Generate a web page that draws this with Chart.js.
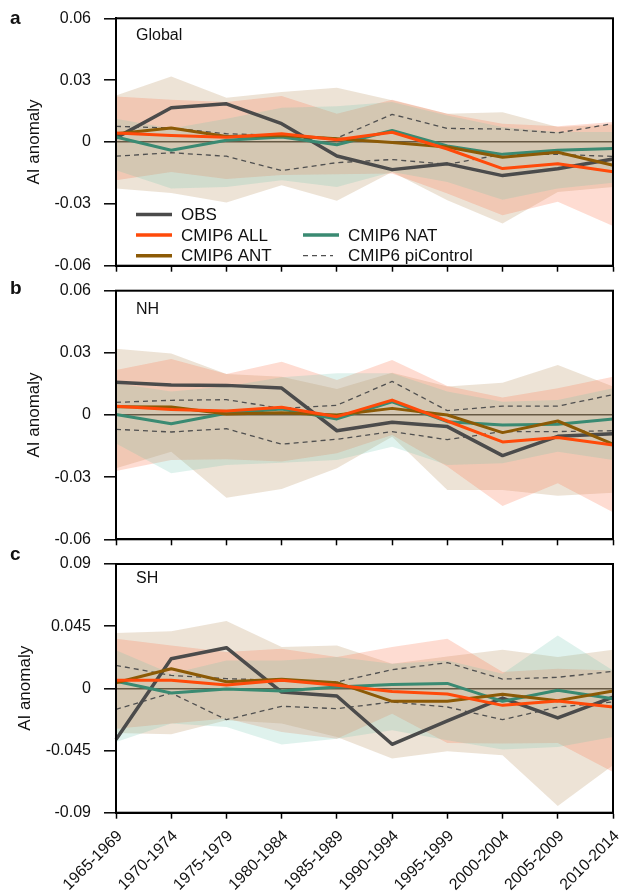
<!DOCTYPE html>
<html>
<head>
<meta charset="utf-8">
<script src="https://cdn.jsdelivr.net/npm/chart.js@4.4.1/dist/chart.umd.min.js"></script>
<style>
  body { margin: 0; background: #fff; overflow: hidden; }
  #wrap { position: relative; width: 621px; height: 893px; }
  canvas { position: absolute; left: 0; }
</style>
</head>
<body>
<div id="wrap">
  <canvas id="cA" width="621" height="280" style="top:0px"></canvas>
  <canvas id="cB" width="621" height="270" style="top:280px"></canvas>
  <canvas id="cC" width="621" height="343" style="top:550px"></canvas>
</div>
<script>
// periods on the x axis
const periods = ['1965-1969', '1970-1974', '1975-1979', '1980-1984', '1985-1989',
  '1990-1994', '1995-1999', '2000-2004', '2005-2009', '2010-2014']

// y ticks
const yTicksAB = [-0.06, -0.03, 0, 0.03, 0.06]
const yLabelsAB = ['-0.06', '-0.03', '0', '0.03', '0.06']
const yTicksC = [-0.09, -0.045, 0, 0.045, 0.09]
const yLabelsC = ['-0.09', '-0.045', '0', '0.045', '0.09']

// a - Global
const obsG = [0.002, 0.0166, 0.0185, 0.0089, -0.0068, -0.0134, -0.0106, -0.0163, -0.013, -0.0082]
const allG = [0.0044, 0.0032, 0.0023, 0.004, 0.0011, 0.0047, -0.0034, -0.0129, -0.0105, -0.0144]
const antG = [0.004, 0.0068, 0.0027, 0.0032, 0.0016, -0.0002, -0.0024, -0.0074, -0.005, -0.0113]
const natG = [0.0024, -0.004, 0.0008, 0.0024, -0.0013, 0.0056, -0.0019, -0.006, -0.004, -0.0032]
const piUpG = [0.0076, 0.0068, 0.004, 0.0032, 0.0019, 0.0134, 0.0066, 0.0063, 0.0044, 0.0089]
const piLoG = [-0.0069, -0.0052, -0.0069, -0.0139, -0.01, -0.0085, -0.0108, -0.006, -0.006, -0.007]
const antUpG = [0.0226, 0.0318, 0.0215, 0.0242, 0.0263, 0.0202, 0.0137, 0.0144, 0.0073, 0.0085]
const antLoG = [-0.0226, -0.0247, -0.0294, -0.021, -0.0285, -0.0145, -0.0282, -0.0395, -0.0242, -0.0218]
const allUpG = [0.0221, 0.0205, 0.0194, 0.0223, 0.0137, 0.0205, 0.0137, 0.0089, 0.0076, 0.0097]
const allLoG = [-0.0185, -0.0145, -0.018, -0.016, -0.0156, -0.0153, -0.025, -0.0355, -0.029, -0.0408]
const natUpG = [0.0113, 0.0065, 0.0113, 0.0166, 0.0173, 0.0194, 0.0129, 0.0073, 0.0048, 0.0048]
const natLoG = [-0.0137, -0.0226, -0.0218, -0.0185, -0.0218, -0.0145, -0.0194, -0.028, -0.0226, -0.0198]

// b - NH
const obsN = [0.0158, 0.0145, 0.0143, 0.013, -0.0076, -0.0035, -0.0056, -0.0196, -0.0103, -0.009]
const allN = [0.0042, 0.0026, 0.0019, 0.0037, -0.0008, 0.0072, -0.0029, -0.013, -0.0109, -0.0145]
const antN = [0.004, 0.0039, 0.0005, 0.0011, 0, 0.0032, 0, -0.0085, -0.0029, -0.0141]
const natN = [0.0002, -0.0042, 0.0008, 0.0029, -0.0019, 0.0064, -0.0032, -0.0048, -0.0045, -0.0019]
const piUpN = [0.0061, 0.0071, 0.0074, 0.0032, 0.0047, 0.0162, 0.0021, 0.0043, 0.0043, 0.0098]
const piLoN = [-0.0069, -0.0082, -0.0066, -0.0141, -0.0117, -0.008, -0.0119, -0.008, -0.008, -0.0076]
const antUpN = [0.032, 0.0297, 0.0198, 0.0185, 0.0125, 0.0204, 0.0137, 0.0156, 0.0241, 0.0137]
const antLoN = [-0.0257, -0.0177, -0.0399, -0.0357, -0.0257, -0.0105, -0.0362, -0.0362, -0.039, -0.0375]
const allUpN = [0.0217, 0.027, 0.0198, 0.0257, 0.0169, 0.0265, 0.014, 0.0085, 0.0129, 0.0185]
const allLoN = [-0.027, -0.0217, -0.0214, -0.0225, -0.0185, -0.0096, -0.0249, -0.0439, -0.033, -0.0469]
const natUpN = [0.0153, 0.0113, 0.0137, 0.0182, 0.0201, 0.0201, 0.0113, 0.0064, 0.0072, 0.0129]
const natLoN = [-0.0137, -0.0281, -0.0241, -0.023, -0.0217, -0.0153, -0.0241, -0.0233, -0.0177, -0.0217]

// c - SH
const obsS = [-0.0371, 0.0214, 0.0294, -0.0027, -0.0055, -0.0405, -0.0236, -0.007, -0.0214, -0.0063]
const allS = [0.0058, 0.0058, 0.0024, 0.0058, 0.0022, -0.0022, -0.0041, -0.0123, -0.0092, -0.0135]
const antS = [0.0041, 0.0142, 0.0048, 0.0065, 0.0041, -0.0094, -0.0094, -0.0043, -0.0089, -0.0019]
const natS = [0.0051, -0.0034, -0.0005, -0.0019, 0.001, 0.0027, 0.0036, -0.0094, -0.0014, -0.0075]
const piUpS = [0.0166, 0.0094, 0.007, 0.0058, 0.0046, 0.0135, 0.0186, 0.0067, 0.008, 0.0123]
const piLoS = [-0.0152, -0.0034, -0.0227, -0.013, -0.0147, -0.0099, -0.0135, -0.0227, -0.0135, -0.0099]
const antUpS = [0.04, 0.0414, 0.0487, 0.0299, 0.0311, 0.0178, 0.0231, 0.0279, 0.0227, 0.0279]
const antLoS = [-0.0323, -0.0332, -0.0231, -0.0255, -0.0352, -0.0508, -0.0455, -0.0484, -0.0852, -0.0557]
const allUpS = [0.0359, 0.0311, 0.0263, 0.0287, 0.0227, 0.0299, 0.0359, 0.0118, 0.0142, 0.013]
const allLoS = [-0.0292, -0.0255, -0.0219, -0.0316, -0.0364, -0.0183, -0.0395, -0.04, -0.0395, -0.0605]
const natUpS = [0.0275, 0.0106, 0.0202, 0.0202, 0.0227, 0.0178, 0.0202, 0.0106, 0.0383, 0.013]
const natLoS = [-0.0388, -0.0255, -0.028, -0.0407, -0.0364, -0.0304, -0.0376, -0.0443, -0.0424, -0.0352]

// legend text
const legendNames = ['OBS', 'CMIP6 ALL', 'CMIP6 NAT', 'CMIP6 ANT', 'CMIP6 piControl']

// colours
const cObs = '#4b4b4b'
const cAll = '#ff4a0a'
const cAnt = '#8c5a06'
const cNat = '#3a8a72'
const cPi = '#505050'
const fAll = 'rgba(250,120,80,0.26)'
const fAnt = 'rgba(185,145,95,0.26)'
const fNat = 'rgba(110,195,175,0.22)'

const FONT = '"Liberation Sans", Arial, Helvetica, sans-serif'
Chart.defaults.font.family = FONT
Chart.defaults.color = '#111'

// frame, panel name and letter
const panelDeco = {
  id: 'panelDeco',
  afterDatasetsDraw(chart, args, o) {
    const ctx = chart.ctx
    const a = chart.chartArea
    ctx.save()
    ctx.strokeStyle = '#000'
    ctx.lineWidth = 2
    ctx.strokeRect(a.left, a.top, a.right - a.left, a.bottom - a.top)
    ctx.fillStyle = '#111'
    ctx.textBaseline = 'middle'
    ctx.font = '16px ' + FONT
    ctx.fillText(o.name, a.left + 20, a.top + o.nameDy)
    ctx.textBaseline = 'alphabetic'
    ctx.font = 'bold 19px ' + FONT
    ctx.fillText(o.letter, 10, a.top + o.letterDy)
    ctx.restore()
  }
}

// legend for panel a, two columns, placed from the plot corner
const legendDeco = {
  id: 'legendDeco',
  afterDatasetsDraw(chart, args, o) {
    if (!o.show) return
    const ctx = chart.ctx
    const a = chart.chartArea
    const rows = [
      [20, 196.2, cObs, false, legendNames[0]],
      [20, 216.7, cAll, false, legendNames[1]],
      [187, 216.7, cNat, false, legendNames[2]],
      [20, 237.4, cAnt, false, legendNames[3]],
      [187, 237.4, cPi, true, legendNames[4]]
    ]
    ctx.save()
    ctx.font = '17px ' + FONT
    ctx.textBaseline = 'middle'
    rows.forEach(r => {
      const x = a.left + r[0]
      const y = a.top + r[1]
      ctx.beginPath()
      ctx.strokeStyle = r[2]
      ctx.lineWidth = r[3] ? 1.3 : 3.5
      ctx.setLineDash(r[3] ? [5, 4] : [])
      ctx.moveTo(x, y)
      ctx.lineTo(r[3] ? x + 30 : x + 36, y)
      ctx.stroke()
      ctx.setLineDash([])
      ctx.fillStyle = '#111'
      ctx.fillText(r[4], x + 45, y + 1)
    })
    ctx.restore()
  }
}

function line(data, color, width, order) {
  return { data: data, borderColor: color, borderWidth: width, order: order,
    pointRadius: 0, tension: 0, fill: false, borderJoinStyle: 'round' }
}

function band(up, lo, color, order) {
  return [
    { data: up, borderWidth: 0, pointRadius: 0, tension: 0, fill: '+1', backgroundColor: color, order: order },
    { data: lo, borderWidth: 0, pointRadius: 0, tension: 0, fill: false, order: order }
  ]
}

function makePanel(id, s, p) {
  const datasets = [
    line(s.all, cAll, 3, 1),
    line(s.ant, cAnt, 3, 2),
    line(s.nat, cNat, 3, 3),
    line(s.obs, cObs, 3.5, 4),
    Object.assign(line(s.piUp, cPi, 1.3, 5), { borderDash: [5, 4] }),
    Object.assign(line(s.piLo, cPi, 1.3, 5), { borderDash: [5, 4] }),
    ...band(s.natUp, s.natLo, fNat, 7),
    ...band(s.allUp, s.allLo, fAll, 8),
    ...band(s.antUp, s.antLo, fAnt, 9)
  ]

  new Chart(document.getElementById(id), {
    type: 'line',
    data: { labels: periods, datasets: datasets },
    options: {
      responsive: false,
      animation: false,
      layout: { padding: { top: p.padTop, right: 8, left: 0, bottom: 0 } },
      plugins: {
        legend: { display: false },
        tooltip: { enabled: false },
        panelDeco: { name: p.name, nameDy: p.nameDy, letter: p.letter, letterDy: p.letterDy },
        legendDeco: { show: p.legend }
      },
      scales: {
        x: {
          grid: { display: true, drawOnChartArea: false, tickLength: 6, tickColor: '#000', tickWidth: 1.5 },
          border: { color: '#000', width: 2 },
          ticks: { display: p.showX, autoSkip: false, minRotation: 45, maxRotation: 45,
            font: { size: 16 }, color: '#111', padding: 8, labelOffset: 4 },
          afterFit: sc => {
            sc.height = p.xH
            sc.paddingLeft = 0
            sc.paddingRight = 0
          }
        },
        y: {
          min: p.yTicks[0],
          max: p.yTicks[p.yTicks.length - 1],
          afterBuildTicks: sc => { sc.ticks = p.yTicks.map(v => ({ value: v })) },
          ticks: { callback: (v, i) => p.yLabels[i], font: { size: 16 }, color: '#111', padding: 13 },
          grid: {
            color: c => (c.tick && c.tick.value === 0) ? '#000' : 'rgba(0,0,0,0)',
            lineWidth: 1.6, tickLength: 12, tickColor: '#000', tickWidth: 1.5
          },
          border: { color: '#000', width: 2 },
          title: { display: true, text: 'AI anomaly', font: { size: 17 }, color: '#111',
            padding: { top: p.titlePad, bottom: 0 } },
          afterFit: sc => {
            sc.width = 116
            sc.paddingTop = 0
            sc.paddingBottom = 0
          }
        }
      }
    },
    plugins: [panelDeco, legendDeco]
  })
}

makePanel('cA',
  { obs: obsG, all: allG, ant: antG, nat: natG, piUp: piUpG, piLo: piLoG,
    antUp: antUpG, antLo: antLoG, allUp: allUpG, allLo: allLoG, natUp: natUpG, natLo: natLoG },
  { padTop: 18.3, xH: 14.3, showX: false, yTicks: yTicksAB, yLabels: yLabelsAB, titlePad: 24,
    name: 'Global', nameDy: 17.5, letter: 'a', letterDy: 5.2, legend: true })

makePanel('cB',
  { obs: obsN, all: allN, ant: antN, nat: natN, piUp: piUpN, piLo: piLoN,
    antUp: antUpN, antLo: antLoN, allUp: allUpN, allLo: allLoN, natUp: natUpN, natLo: natLoN },
  { padTop: 10.7, xH: 10.7, showX: false, yTicks: yTicksAB, yLabels: yLabelsAB, titlePad: 24,
    name: 'NH', nameDy: 19.3, letter: 'b', letterDy: 3.3, legend: false })

makePanel('cC',
  { obs: obsS, all: allS, ant: antS, nat: natS, piUp: piUpS, piLo: piLoS,
    antUp: antUpS, antLo: antLoS, allUp: allUpS, allLo: allLoS, natUp: natUpS, natLo: natLoS },
  { padTop: 14, xH: 80.3, showX: true, yTicks: yTicksC, yLabels: yLabelsC, titlePad: 15,
    name: 'SH', nameDy: 14.3, letter: 'c', letterDy: -4, legend: false })
</script>
</body>
</html>
